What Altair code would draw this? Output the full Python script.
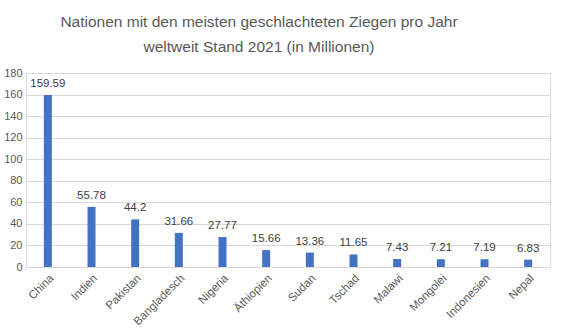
import altair as alt
import pandas as pd

countries = ["China", "Indien", "Pakistan", "Bangladesch", "Nigeria", "Äthiopien",
             "Sudan", "Tschad", "Malawi", "Mongolei", "Indonesien", "Nepal"]
values = [159.59, 55.78, 44.2, 31.66, 27.77, 15.66, 13.36, 11.65, 7.43, 7.21, 7.19, 6.83]
labels = ["159.59", "55.78", "44.2", "31.66", "27.77", "15.66", "13.36", "11.65", "7.43", "7.21", "7.19", "6.83"]

df = pd.DataFrame({"Land": countries, "Wert": values, "Label": labels})

FONT = "Liberation Sans"
GRAY = "#595959"

x = alt.X("Land:N", sort=countries, title=None,
          scale=alt.Scale(paddingInner=0, paddingOuter=0),
          axis=alt.Axis(labelAngle=-45, labelAlign="right", labelBaseline="top",
                        labelFontSize=11.5, labelColor=GRAY, labelFont=FONT,
                        ticks=False, domainColor="#d9d9d9", labelPadding=5))
y = alt.Y("Wert:Q", title=None,
          scale=alt.Scale(domain=[0, 180], nice=False),
          axis=alt.Axis(values=list(range(0, 181, 20)), labelFontSize=11, labelColor=GRAY,
                        labelFont=FONT, ticks=False, domain=False, gridColor="#d9d9d9",
                        labelPadding=4))

bars = alt.Chart(df).mark_bar(size=8, color="#4472C4").encode(x=x, y=y)
text = alt.Chart(df).mark_text(baseline="bottom", dy=-6, fontSize=11.5, color="#404040",
                               font=FONT).encode(x=x, y=y, text="Label:N")

chart = (bars + text).properties(
    width=524, height=194,
    padding={"left": 26, "top": 73, "right": 25, "bottom": 65},
    autosize=alt.AutoSizeParams(type="none"),
    title=alt.TitleParams(
        ["Nationen mit den meisten geschlachteten Ziegen pro Jahr",
         "weltweit Stand 2021 (in Millionen)"],
        fontSize=15.5, font=FONT, color=GRAY, fontWeight="normal",
        anchor="middle", lineHeight=25, offset=12, dx=-29),
).configure_view(stroke=None).configure(background="white")

chart.save("out.html", embed_options={"renderer": "svg", "actions": False})
